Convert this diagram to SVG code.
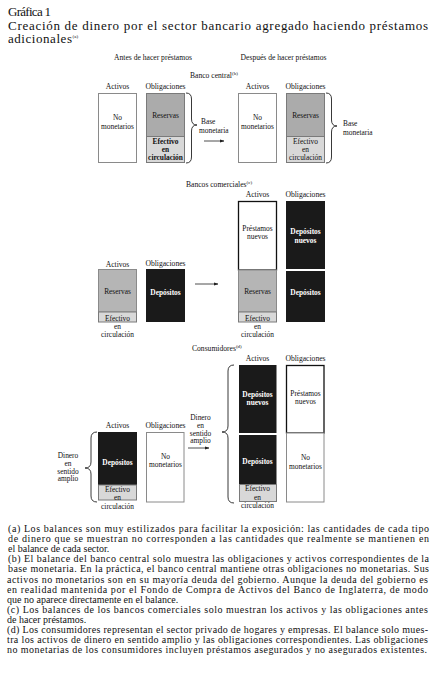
<svg xmlns="http://www.w3.org/2000/svg" width="436" height="673" viewBox="0 0 436 673">
<defs>
<style>
text{font-family:"Liberation Serif","Times New Roman",serif;fill:#111}
.ttl{font-size:13px}
.hd{font-size:7.6px;text-anchor:middle}
.lb{font-size:7.6px;text-anchor:middle}
.bx{font-size:7.4px;text-anchor:middle}
.bxl{font-size:7.4px;text-anchor:start}
.wb{font-size:7.4px;text-anchor:middle;fill:#fff;font-weight:bold}
.bb{font-weight:bold}
.sec{font-size:7.6px}
.sup{font-size:5px}
.fn{font-size:10px}
.wbox{fill:#fff;stroke:#8a8a8a;stroke-width:1}
.nbox{fill:#fff;stroke:#111;stroke-width:1.3}
.res{fill:#ababab;stroke:#7a7a7a;stroke-width:1}
.res2{fill:#b5b5b5;stroke:#8a8a8a;stroke-width:1}
.ef{fill:#d8d8d8;stroke:#7a7a7a;stroke-width:1}
.blk{fill:#1a1a1a}
.brace{fill:none;stroke:#222;stroke-width:0.9}
.arr{stroke:#222;stroke-width:0.8;fill:none}
</style>
<marker id="ah" viewBox="0 0 10 10" refX="9" refY="5" markerWidth="4.5" markerHeight="4.5" markerUnits="userSpaceOnUse" orient="auto">
<path d="M0,1.5 L10,5 L0,8.5 z" fill="#222"/>
</marker>
</defs>

<g id="title">
<text class="ttl" x="8" y="16" textLength="43" lengthAdjust="spacing">Gráfica 1</text>
<text class="ttl" x="8" y="29.5" textLength="420" lengthAdjust="spacing">Creación de dinero por el sector bancario agregado haciendo préstamos</text>
<text class="ttl" x="8" y="43"><tspan textLength="64" lengthAdjust="spacing">adicionales</tspan><tspan class="sup" dy="-5" font-size="6px">(a)</tspan></text>
</g>

<g id="headers">
<text class="hd" x="153" y="60">Antes de hacer préstamos</text>
<text class="hd" x="283.5" y="60">Después de hacer préstamos</text>
</g>

<g id="banco-central">
<text class="sec" x="190" y="78">Banco central<tspan class="sup" dy="-3">(b)</tspan></text>
<g id="bc-antes-activos">
<text class="lb" x="117.5" y="89">Activos</text>
<rect class="wbox" x="98.5" y="93.5" width="38" height="69"/>
<text class="bx" x="117.5" y="120">No</text>
<text class="bx" x="117.5" y="129">monetarios</text>
</g>
<g id="bc-antes-obligaciones">
<text class="lb" x="165.5" y="89">Obligaciones</text>
<rect class="res" x="146.5" y="93.5" width="38" height="43"/>
<rect class="ef" x="146.5" y="136.5" width="38" height="26"/>
<text class="bx" x="165.5" y="118">Reservas</text>
<text class="bx bb" x="165.5" y="144">Efectivo</text>
<text class="bx bb" x="165.5" y="152">en</text>
<text class="bx bb" x="165.5" y="160">circulación</text>
</g>
<g id="bc-antes-base">
<text class="bxl" x="201" y="124">Base</text>
<text class="bxl" x="199" y="133">monetaria</text>
</g>
<g id="bc-despues-activos">
<text class="lb" x="257.5" y="89">Activos</text>
<rect class="wbox" x="238.5" y="93.5" width="38" height="69"/>
<text class="bx" x="257.5" y="120">No</text>
<text class="bx" x="257.5" y="129">monetarios</text>
</g>
<g id="bc-despues-obligaciones">
<text class="lb" x="305.5" y="89">Obligaciones</text>
<rect class="res" x="286.5" y="93.5" width="38" height="43"/>
<rect class="ef" x="286.5" y="136.5" width="38" height="26"/>
<text class="bx" x="305.5" y="118">Reservas</text>
<text class="bx" x="305.5" y="143.5">Efectivo</text>
<text class="bx" x="305.5" y="151.5">en</text>
<text class="bx" x="305.5" y="160">circulación</text>
</g>
<g id="bc-despues-base">
<text class="bxl" x="343" y="126">Base</text>
<text class="bxl" x="343" y="134.5">monetaria</text>
</g>
</g>

<g id="bancos-comerciales">
<text class="sec" x="186" y="187">Bancos comerciales<tspan class="sup" dy="-3">(c)</tspan></text>
<g id="bk-antes-activos">
<text class="lb" x="117.5" y="267">Activos</text>
<rect class="res2" x="98.5" y="269.5" width="38" height="42.5"/>
<rect class="ef" x="98.5" y="312" width="38" height="10"/>
<text class="bx" x="117.5" y="294">Reservas</text>
<text class="bx" x="117.5" y="320.5">Efectivo</text>
<text class="bx" x="117.5" y="329">en</text>
<text class="bx" x="117.5" y="337">circulación</text>
</g>
<g id="bk-antes-obligaciones">
<text class="lb" x="165.5" y="266">Obligaciones</text>
<rect class="blk" x="146" y="269" width="39" height="53"/>
<text class="wb" x="165.5" y="295">Depósitos</text>
</g>
<g id="bk-despues-activos">
<text class="lb" x="257.5" y="197">Activos</text>
<rect class="nbox" x="238.5" y="201.5" width="38" height="68.5"/>
<rect class="res2" x="238.5" y="270" width="38" height="42"/>
<rect class="ef" x="238.5" y="312" width="38" height="10"/>
<text class="bx" x="257.5" y="231">Préstamos</text>
<text class="bx" x="257.5" y="239">nuevos</text>
<text class="bx" x="257.5" y="294">Reservas</text>
<text class="bx" x="257.5" y="320.5">Efectivo</text>
<text class="bx" x="257.5" y="329">en</text>
<text class="bx" x="257.5" y="337">circulación</text>
</g>
<g id="bk-despues-obligaciones">
<text class="lb" x="305.5" y="197">Obligaciones</text>
<rect class="blk" x="286" y="201" width="39" height="68"/>
<rect class="blk" x="286" y="271" width="39" height="51"/>
<text class="wb" x="305.5" y="234">Depósitos</text>
<text class="wb" x="305.5" y="243">nuevos</text>
<text class="wb" x="305.5" y="295">Depósitos</text>
</g>
</g>

<g id="consumidores">
<text class="sec" x="192" y="351">Consumidores<tspan class="sup" dy="-3">(d)</tspan></text>
<g id="co-antes-activos">
<text class="lb" x="117.5" y="428">Activos</text>
<rect class="blk" x="98" y="432" width="39" height="53"/>
<rect class="ef" x="98.5" y="485" width="38" height="15"/>
<text class="wb" x="117.5" y="465">Depósitos</text>
<text class="bx" x="117.5" y="491.5">Efectivo</text>
<text class="bx" x="117.5" y="500">en</text>
<text class="bx" x="117.5" y="508.5">circulación</text>
</g>
<g id="co-antes-obligaciones">
<text class="lb" x="165.5" y="428">Obligaciones</text>
<rect class="wbox" x="146.5" y="432.5" width="37.5" height="69.5"/>
<text class="bx" x="165.5" y="459">No</text>
<text class="bx" x="165.5" y="467">monetarios</text>
</g>
<g id="co-antes-dinero">
<text class="bx" x="68" y="458">Dinero</text>
<text class="bx" x="68" y="466">en</text>
<text class="bx" x="68" y="473.5">sentido</text>
<text class="bx" x="68" y="481">amplio</text>
</g>
<g id="co-flecha-dinero">
<text class="bx" x="200.5" y="420">Dinero</text>
<text class="bx" x="200.5" y="428">en</text>
<text class="bx" x="200.5" y="435.5">sentido</text>
<text class="bx" x="200.5" y="443">amplio</text>
</g>
<g id="co-despues-activos">
<text class="lb" x="257.5" y="361">Activos</text>
<rect class="blk" x="239" y="365" width="37.5" height="68"/>
<rect class="blk" x="239" y="435" width="37.5" height="49"/>
<rect class="ef" x="239.5" y="484.5" width="37" height="17"/>
<text class="wb" x="257.5" y="397">Depósitos</text>
<text class="wb" x="257.5" y="405">nuevos</text>
<text class="wb" x="257.5" y="464">Depósitos</text>
<text class="bx" x="257.5" y="491">Efectivo</text>
<text class="bx" x="257.5" y="499.5">en</text>
<text class="bx" x="257.5" y="508">circulación</text>
</g>
<g id="co-despues-obligaciones">
<text class="lb" x="305.5" y="361">Obligaciones</text>
<rect class="nbox" x="286.5" y="365.5" width="37.5" height="67.5"/>
<rect class="wbox" x="286.5" y="433" width="37.5" height="69"/>
<text class="bx" x="305.5" y="396">Préstamos</text>
<text class="bx" x="305.5" y="403.5">nuevos</text>
<text class="bx" x="305.5" y="460">No</text>
<text class="bx" x="305.5" y="469">monetarios</text>
</g>
</g>

<g id="connectors">
<path class="brace" d="M186,93 Q191.5,93 191.5,99 L191.5,119 Q191.5,125 197,125 Q191.5,125 191.5,131 L191.5,157 Q191.5,163 186,163"/>
<path class="brace" d="M326,93 Q331.5,93 331.5,99 L331.5,120 Q331.5,126 337,126 Q331.5,126 331.5,132 L331.5,157 Q331.5,163 326,163"/>
<path class="brace" d="M97,432 Q91,432 91,438 L91,462 Q91,468 85,468 Q91,468 91,474 L91,496 Q91,502 97,502"/>
<path class="brace" d="M234,365 Q228,365 228,371 L228,426 Q228,432 222,432 Q228,432 228,438 L228,497 Q228,503 234,503"/>
<line class="arr" x1="204" y1="141" x2="224" y2="141" marker-end="url(#ah)"/>
<line class="arr" x1="195" y1="284" x2="218" y2="284" marker-end="url(#ah)"/>
<line class="arr" x1="188" y1="448" x2="209" y2="448" marker-end="url(#ah)"/>
</g>

<g id="notas">
<text class="fn" x="8" y="531.5" textLength="421" lengthAdjust="spacing">(a) Los balances son muy estilizados para facilitar la exposición: las cantidades de cada tipo</text>
<text class="fn" x="8" y="541.5" textLength="421" lengthAdjust="spacing">de dinero que se muestran no corresponden a las cantidades que realmente se mantienen en</text>
<text class="fn" x="8" y="551.5">el balance de cada sector.</text>
<text class="fn" x="8" y="562" textLength="421" lengthAdjust="spacing">(b) El balance del banco central solo muestra las obligaciones y activos correspondientes de la</text>
<text class="fn" x="8" y="572" textLength="421" lengthAdjust="spacing">base monetaria. En la práctica, el banco central mantiene otras obligaciones no monetarias. Sus</text>
<text class="fn" x="7" y="583" textLength="421" lengthAdjust="spacing">activos no monetarios son en su mayoría deuda del gobierno. Aunque la deuda del gobierno es</text>
<text class="fn" x="7" y="593" textLength="421" lengthAdjust="spacing">en realidad mantenida por el Fondo de Compra de Activos del Banco de Inglaterra, de modo</text>
<text class="fn" x="7" y="603">que no aparece directamente en el balance.</text>
<text class="fn" x="7" y="613" textLength="421" lengthAdjust="spacing">(c) Los balances de los bancos comerciales solo muestran los activos y las obligaciones antes</text>
<text class="fn" x="7" y="622.5">de hacer préstamos.</text>
<text class="fn" x="7" y="633" textLength="421" lengthAdjust="spacing">(d) Los consumidores representan el sector privado de hogares y empresas. El balance solo mues-</text>
<text class="fn" x="7" y="643" textLength="421" lengthAdjust="spacing">tra los activos de dinero en sentido amplio y las obligaciones correspondientes. Las obligaciones</text>
<text class="fn" x="7" y="653" textLength="420" lengthAdjust="spacing">no monetarias de los consumidores incluyen préstamos asegurados y no asegurados existentes.</text>
</g>
</svg>
